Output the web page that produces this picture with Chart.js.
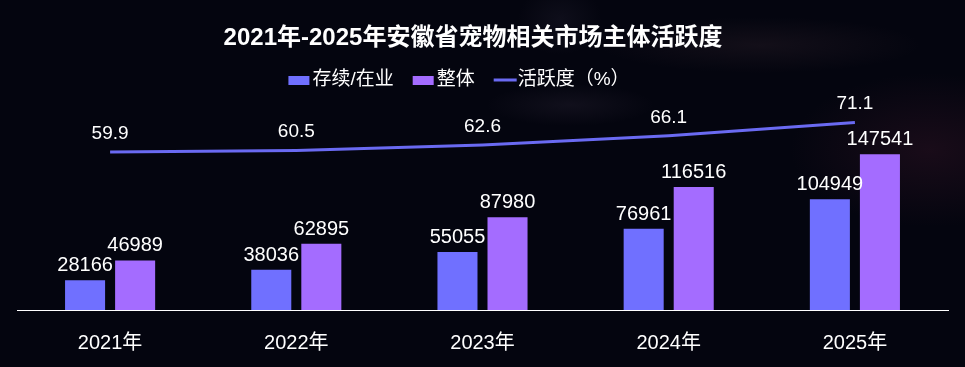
<!DOCTYPE html>
<html>
<head>
<meta charset="utf-8">
<script src="https://cdn.jsdelivr.net/npm/chart.js@4"></script>
<style>
  html,body{margin:0;padding:0;}
  body{
    width:965px;height:367px;overflow:hidden;
    background:
      radial-gradient(ellipse 200px 110px at 930px 150px, rgba(100,35,60,0.22), rgba(0,0,0,0) 70%),
      radial-gradient(ellipse 230px 40px at 760px 45px, rgba(120,80,90,0.13), rgba(0,0,0,0) 70%),
      radial-gradient(ellipse 120px 30px at 570px 105px, rgba(110,90,120,0.12), rgba(0,0,0,0) 70%),
      radial-gradient(ellipse 60px 50px at 560px 20px, rgba(90,80,110,0.12), rgba(0,0,0,0) 70%),
      #04050f;
  }
  #wrap{position:relative;width:965px;height:367px;}
</style>
</head>
<body>
<div id="wrap"><canvas id="chart" width="965" height="367"></canvas></div>
<script>
/* DATA */
const years = ["2021年","2022年","2023年","2024年","2025年"];
const survive = [28166, 38036, 55055, 76961, 104949];
const total = [46989, 62895, 87980, 116516, 147541];
const activity = [59.9, 60.5, 62.6, 66.1, 71.1];

const titleText = "2021年-2025年安徽省宠物相关市场主体活跃度";
const FONT = "'Liberation Sans', Arial, 'Noto Sans CJK SC', sans-serif";

/* value labels above bars and points */
const valueLabels = {
  id:"valueLabels",
  afterDatasetsDraw(chart){
    const ctx = chart.ctx;
    ctx.save();
    ctx.fillStyle = "#ffffff";
    ctx.textAlign = "center";
    ctx.textBaseline = "alphabetic";
    chart.data.datasets.forEach((ds, i)=>{
      const meta = chart.getDatasetMeta(i);
      meta.data.forEach((el, j)=>{
        if(ds.type === "line"){
          ctx.font = "19px " + FONT;
          ctx.fillText(ds.data[j].toFixed(1), el.x, el.y - 13);
        } else {
          ctx.font = "20px " + FONT;
          ctx.fillText(String(ds.data[j]), el.x, el.y - 9);
        }
      });
    });
    ctx.restore();
  }
};

/* title + legend */
const header = {
  id:"header",
  afterDraw(chart){
    const ctx = chart.ctx;
    ctx.save();
    ctx.fillStyle = "#ffffff";
    ctx.textBaseline = "middle";
    ctx.textAlign = "center";
    ctx.font = "bold 24px " + FONT;
    ctx.fillText(titleText, 473, 38);

    ctx.font = "19px " + FONT;
    ctx.textAlign = "left";
    const items = chart.data.datasets.map(ds=>({
      text: ds.label, color: ds.type === "line" ? ds.borderColor : ds.backgroundColor, line: ds.type === "line"
    }));
    let w = 0;
    items.forEach((it, i)=>{ w += 21 + 3 + ctx.measureText(it.text).width + (i ? 19 : 0); });
    let x = 459 - w/2;
    items.forEach(it=>{
      if(it.line){
        ctx.strokeStyle = it.color;
        ctx.lineWidth = 3;
        ctx.beginPath();
        ctx.moveTo(x, 80); ctx.lineTo(x + 23, 80);
        ctx.stroke();
      } else {
        ctx.fillStyle = it.color;
        ctx.fillRect(x, 76, 21, 9);
      }
      ctx.fillStyle = "#ffffff";
      ctx.fillText(it.text, x + 24, 80);
      x += 24 + ctx.measureText(it.text).width + 19;
    });
    ctx.restore();
  }
};

new Chart(document.getElementById("chart"), {
  data:{
    labels: years,
    datasets:[
      {
        type:"bar", label:"存续/在业", data: survive, yAxisID:"y",
        backgroundColor:"#7070ff", categoryPercentage:0.5376, barPercentage:0.8, order:1
      },
      {
        type:"bar", label:"整体", data: total, yAxisID:"y",
        backgroundColor:"#a46cff", categoryPercentage:0.5376, barPercentage:0.8, order:1
      },
      {
        type:"line", label:"活跃度（%）", data: activity, yAxisID:"y1",
        borderColor:"#6a6af2", backgroundColor:"#6a6af2", borderWidth:3,
        pointRadius:0, tension:0, order:0
      }
    ]
  },
  options:{
    responsive:false,
    animation:false,
    layout:{ padding:{ top:99, left:17, right:17, bottom:15 } },
    plugins:{
      legend:{ display:false },
      title:{ display:false },
      tooltip:{ enabled:false }
    },
    scales:{
      x:{
        grid:{ display:false },
        border:{ display:true, color:"#ffffff", width:1 },
        ticks:{ color:"#ffffff", padding:13, font:{ size:20, family:FONT } },
        afterFit(scale){ scale.height = 42; }
      },
      y:{ display:false, min:0, max:200000 },
      y1:{ display:false, min:0, max:80, position:"right" }
    }
  },
  plugins:[valueLabels, header]
});
</script>
</body>
</html>
